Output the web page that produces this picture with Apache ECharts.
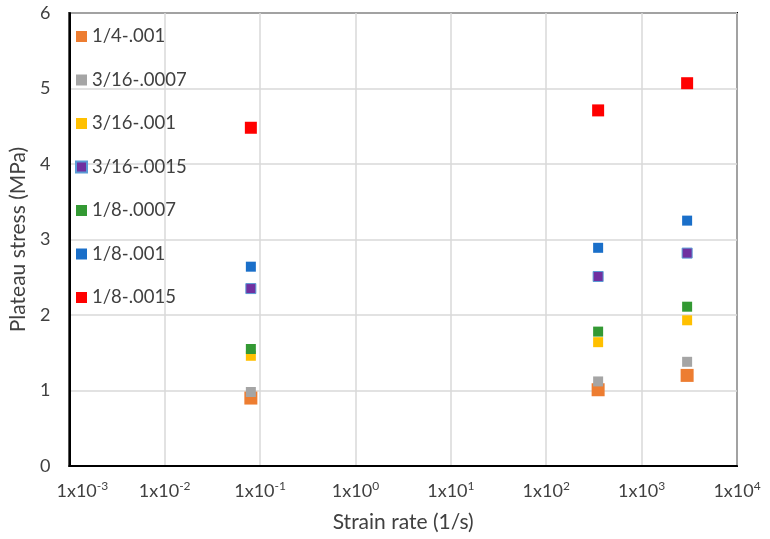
<!DOCTYPE html>
<html>
<head>
<meta charset="utf-8">
<script src="https://cdn.jsdelivr.net/npm/echarts@6/dist/echarts.min.js"></script>
<style>html,body{margin:0;padding:0;background:#fff}#c{width:770px;height:539px}</style>
</head>
<body>
<div id="c"></div>
<script>
// Strain rates (1/s) for the three test groups
const strainRates = [0.08, 350, 3000];
// Series names
const seriesNames = ['1/4-.001', '3/16-.0007', '3/16-.001', '3/16-.0015', '1/8-.0007', '1/8-.001', '1/8-.0015'];
// Plateau stress (MPa) for each series at each strain rate
const s_14_001   = [0.90, 1.01, 1.20];
const s_316_0007 = [0.98, 1.12, 1.38];
const s_316_001  = [1.46, 1.64, 1.93];
const s_316_0015 = [2.35, 2.51, 2.82];
const s_18_0007  = [1.55, 1.78, 2.11];
const s_18_001   = [2.64, 2.89, 3.25];
const s_18_0015  = [4.48, 4.71, 5.07];
const seriesValues = [s_14_001, s_316_0007, s_316_001, s_316_0015, s_18_0007, s_18_001, s_18_0015];
const colors = ['#ED7D31', '#A5A5A5', '#FFC000', '#7030A0', '#339933', '#1A6FC9', '#FF0000'];
const sizes = [13, 10, 10, 10, 10, 10, 12];
const yTicks = [0, 1, 2, 3, 4, 5, 6];

const FONT = 'Lato';
const chart = echarts.init(document.getElementById('c'));
chart.setOption({
  animation: false,
  textStyle: { fontFamily: FONT },
  grid: { left: 64, right: 33, top: 13, bottom: 73, show: true, borderColor: '#000', borderWidth: 2, containLabel: false },
  legend: {
    orient: 'vertical', left: 70, top: 22,
    itemWidth: 11, itemHeight: 11, itemGap: 24.5,
    textStyle: { fontFamily: FONT, fontSize: 18.5, color: '#404040', lineHeight: 19 },
    data: seriesNames.map(n => ({ name: n, icon: 'rect' }))
  },
  xAxis: {
    type: 'log', logBase: 10, min: 0.001, max: 10000,
    name: 'Strain rate (1/s)', nameLocation: 'middle', nameGap: 46,
    nameTextStyle: { fontFamily: FONT, fontSize: 21, color: '#404040' },
    axisLine: { show: true, lineStyle: { color: '#000', width: 2 } },
    axisTick: { show: false },
    minorTick: { show: false },
    splitLine: { show: true, lineStyle: { color: '#D9D9D9', width: 1.5 } },
    axisLabel: {
      margin: 14, color: '#404040',
      formatter: v => {
        const e = Math.round(Math.log10(v));
        return e === -3 ? '{p|}{b|1x10}{s|' + e + '}' : '{b|1x10}{s|' + e + '}';
      },
      rich: {
        p: { width: 26 },
        b: { fontFamily: FONT, fontSize: 18, color: '#404040' },
        s: { fontFamily: FONT, fontSize: 12, color: '#404040', padding: [0, 0, 10, 0] }
      }
    }
  },
  yAxis: {
    type: 'value', min: 0, max: 6, interval: 1,
    name: 'Plateau stress (MPa)', nameLocation: 'middle', nameGap: 40,
    nameTextStyle: { fontFamily: FONT, fontSize: 21, color: '#404040' },
    axisLine: { show: true, lineStyle: { color: '#000', width: 2 } },
    axisTick: { show: false },
    splitLine: { show: true, lineStyle: { color: '#D9D9D9', width: 1.5 } },
    axisLabel: { margin: 19, fontSize: 18, color: '#404040', fontFamily: FONT,
      formatter: v => yTicks.includes(v) ? String(v) : '' }
  },
  series: seriesNames.map((n, i) => ({
    name: n, type: 'scatter', symbol: 'rect', symbolSize: sizes[i],
    itemStyle: i === 3 ? { color: colors[i], borderColor: '#5B9BD5', borderWidth: 1, opacity: 1 } : { color: colors[i], opacity: 1 },
    data: strainRates.map((x, j) => [x, seriesValues[i][j]])
  }))
});
</script>
</body>
</html>
